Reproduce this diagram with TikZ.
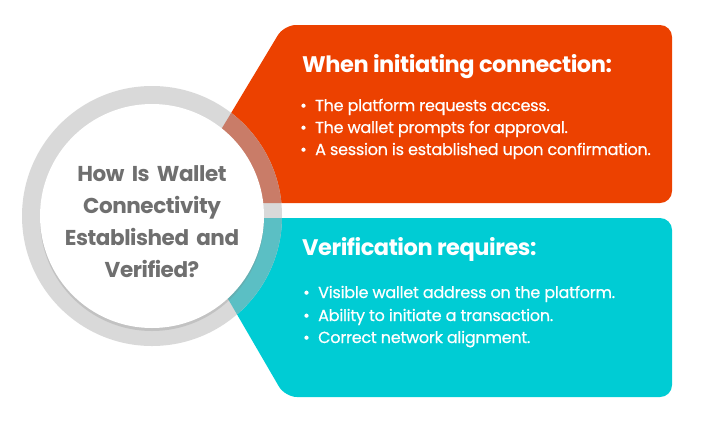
\documentclass[tikz,border=0pt]{standalone}
\usepackage{fontspec}
\setmainfont{Poppins}
\newfontfamily\tightfont{Poppins}[LetterSpace=-2]
\newfontfamily\itemfont{Poppins}[LetterSpace=-1.5,FakeBold=0.6]
\usetikzlibrary{positioning}
\usetikzlibrary{shadows}
\definecolor{flame}{HTML}{EC4100}
\definecolor{aqua}{HTML}{00CCD4}
\definecolor{ringgray}{HTML}{D9D9D9}
\definecolor{ringflame}{HTML}{C97C68}
\definecolor{ringaqua}{HTML}{5BBFC4}
\definecolor{titlegray}{HTML}{6F6F6F}
\newcommand{\bul}{\makebox[15pt][l]{\textbullet}}

\begin{document}
\begin{tikzpicture}
  [
    x=1pt,y=-1pt,
    heading/.style={
      anchor=base west,
      text=white,
      inner sep=0pt,
      font=\fontsize{22.5}{26}\tightfont\bfseries
    },
    item/.style={
      anchor=base west,
      text=white,
      inner sep=0pt,
      font=\fontsize{16}{19}\itemfont
    },
    title/.style={
      text=titlegray,
      align=center,
      inner sep=0pt,
      font=\fontsize{21.5}{32}\tightfont\bfseries
    },
  ]
  \useasboundingbox (0,0) rectangle (719,432);

  % the two arrow panels
  \path[fill=flame,rounded corners=12pt]
    (177,203) -- (284,25) -- (672,25) -- (672,203) -- cycle;
  \path[fill=aqua,rounded corners=12pt]
    (181,218) -- (672,218) -- (672,397) -- (285,397) -- cycle;

  % grey ring, tinted where it lies over a panel
  \fill[ringgray] (152,216) circle[radius=130];
  \begin{scope}
    \clip (177,203) -- (284,25) -- (672,25) -- (672,203) -- cycle;
    \fill[ringflame] (152,216) circle[radius=130];
  \end{scope}
  \begin{scope}
    \clip (181,218) -- (672,218) -- (672,397) -- (285,397) -- cycle;
    \fill[ringaqua] (152,216) circle[radius=130];
  \end{scope}
  \node[circle,fill=white,minimum size=224pt,inner sep=0pt,
        drop shadow={shadow xshift=0pt,shadow yshift=-3pt,opacity=0.25}]
    (hub) at (152,216) {};
  \node[title,text width=200pt] (question) at (152,222)
    {How Is Wallet\\Connectivity\\Established and\\Verified?};

  % connection panel
  \node[heading] (connect) at (302,72) {When initiating connection:};
  \node[item] (access)  at (300,111) {\bul The platform requests access.};
  \node[item] (approve) at (300,133) {\bul The wallet prompts for approval.};
  \node[item] (session) at (300,155) {\bul A session is established upon confirmation.};

  % verification panel
  \node[heading] (verify) at (302,255) {Verification requires:};
  \node[item] (address) at (303,298) {\bul Visible wallet address on the platform.};
  \node[item] (transact) at (303,321) {\bul Ability to initiate a transaction.};
  \node[item] (network) at (303,343) {\bul Correct network alignment.};
\end{tikzpicture}
\end{document}
